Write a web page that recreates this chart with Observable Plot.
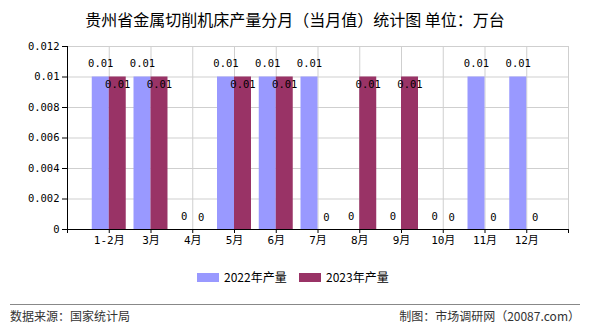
<!DOCTYPE html>
<html><head><meta charset="utf-8">
<script src="https://cdn.jsdelivr.net/npm/d3@7"></script>
<script src="https://cdn.jsdelivr.net/npm/@observablehq/plot@0.6"></script>
<style>
body{margin:0;background:#fff;}
#wrap{position:relative;width:590px;height:330px;overflow:hidden;font-family:"Noto Sans CJK SC",sans-serif;}
#title{position:absolute;left:0;top:7px;width:590px;text-align:center;font-size:16px;color:#000;}
#chart{position:absolute;left:0;top:0;}
#legend{position:absolute;top:268px;left:0;width:590px;font-size:12px;color:#000;}
.sw{position:absolute;width:22px;height:9px;top:5px;}
.lt{position:absolute;top:0px;line-height:18px;}
#sep{position:absolute;left:10px;top:304px;width:570px;height:1px;background:#888;}
#src{position:absolute;left:10px;top:307px;font-size:12px;color:#333;}
#by{position:absolute;right:10px;top:307px;font-size:12px;color:#333;}
</style></head>
<body><div id="wrap">
<div id="chart"></div>
<div id="title">贵州省金属切削机床产量分月（当月值）统计图 单位：万台</div>
<div id="legend"></div>
<div id="sep"></div>
<div id="src">数据来源：国家统计局</div>
<div id="by">制图：市场调研网（20087.com）</div>
</div>
<script>
const categories = ["1-2月","3月","4月","5月","6月","7月","8月","9月","10月","11月","12月"];
const values2022 = [0.01,0.01,0,0.01,0.01,0.01,0,0,0,0.01,0.01];
const values2023 = [0.01,0.01,0,0.01,0.01,0,0.01,0.01,0,0,0];
const yTicks = [0,0.002,0.004,0.006,0.008,0.01,0.012];
const seriesNames = ["2022年产量","2023年产量"];
const colors = ["#9999FF","#993366"];

const half = 0.407; // bar width in slot units
const d22 = categories.map((c,i)=>({i:i+1, v:values2022[i]}));
const d23 = categories.map((c,i)=>({i:i+1, v:values2023[i]}));
const fmt = v => String(v);
const numFont = '"DejaVu Sans Mono","Noto Sans CJK SC",monospace';

const plot = Plot.plot({
  width:590, height:260,
  marginLeft:67, marginRight:22, marginTop:46, marginBottom:31,
  x:{type:"linear", domain:[0,12]},
  y:{domain:[0,0.012]},
  style:{fontFamily:numFont, fontSize:"10.5px", color:"#000", background:"transparent"},
  marks:[
    Plot.gridY(yTicks.filter(d=>d>0), {stroke:"#cfcfcf", strokeOpacity:1}),
    Plot.gridX(d3.range(1,13), {stroke:"#cfcfcf", strokeOpacity:1}),
    Plot.rectY(d22, {x1:d=>d.i-half, x2:d=>d.i, y1:0, y2:"v", fill:colors[0]}),
    Plot.rectY(d23, {x1:d=>d.i, x2:d=>d.i+half, y1:0, y2:"v", fill:colors[1]}),
    Plot.text(d22, {x:d=>d.i-half/2, y:"v", text:d=>fmt(d.v), dy:-13, fill:"#000"}),
    Plot.text(d23.filter(d=>d.v>0), {x:d=>d.i+half/2, y:"v", text:d=>fmt(d.v), dy:8, fill:"#000"}),
    Plot.text(d23.filter(d=>d.v===0), {x:d=>d.i+half/2, y:"v", text:d=>fmt(d.v), dy:-12, fill:"#000"}),
    Plot.axisY({ticks:yTicks, tickFormat:fmt, tickSize:5, tickPadding:3, label:null, stroke:"#000"}),
    Plot.axisX({ticks:d3.range(0,13), tickFormat:d=> (d>=1 && d<=11) ? categories[d-1] : "", tickSize:4, tickPadding:3, label:null, fontFamily:numFont, fontSize:11}),
    Plot.ruleY([0], {stroke:"#000"}),
    Plot.ruleX([0], {stroke:"#000"})
  ]
});
document.getElementById("chart").appendChild(plot);

const lg = document.getElementById("legend");
const pos = [[197,224],[299,326]];
seriesNames.forEach((n,k)=>{
  const s=document.createElement("div"); s.className="sw"; s.style.left=pos[k][0]+"px"; s.style.background=colors[k]; lg.appendChild(s);
  const t=document.createElement("div"); t.className="lt"; t.style.left=pos[k][1]+"px"; t.textContent=n; lg.appendChild(t);
});
</script>
</body></html>
